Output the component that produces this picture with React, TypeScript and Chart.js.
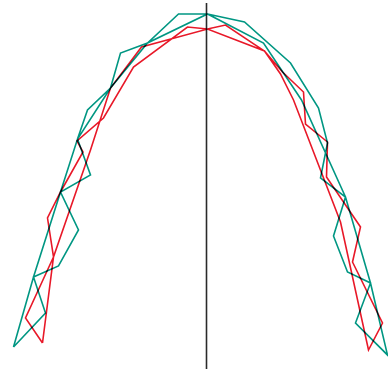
import React, { useEffect, useRef } from "react";
import { Chart, registerables } from "chart.js";

Chart.register(...registerables);

// Teal trace (closed path: noisy strand up-left, over, down-right; then smooth strand back)
const tealX = [
  -1.93, -1.61, -1.73, -1.48, -1.28, -1.46, -1.16, -1.29, -1.19, -0.96, -0.86, -0.59, -0.28, 0.01,
  0.38, 0.84, 1.12, 1.21, 1.14, 1.39, 1.27, 1.41, 1.64, 1.49, 1.81,
  1.64, 1.39, 0.95, 0.57, 0.01,
  -0.59, -0.96, -1.29, -1.46, -1.73, -1.93,
];
const tealY = [
  0.22, 0.56, 0.92, 1.03, 1.39, 1.77, 1.94, 2.3, 2.59, 2.81, 3.16, 3.26, 3.55, 3.55,
  3.47, 3.06, 2.61, 2.26, 1.91, 1.72, 1.33, 0.97, 0.86, 0.46, 0.14,
  0.86, 1.72, 2.69, 3.26, 3.55,
  3.26, 2.81, 2.3, 1.77, 0.92, 0.22,
];

// Red trace
const redX = [
  -1.64, -1.81, -1.53, -1.59, -1.46, -1.235, -1.295, -1.03, -0.73, -0.19, 0.01,
  0.19, 0.58, 0.76, 0.97, 0.99, 1.21, 1.2, 1.54, 1.46, 1.76, 1.62,
  1.34, 0.87, 0.74, 0.58, 0.01,
  -0.65, -0.96, -1.16, -1.53, -1.64,
];
const redY = [
  0.26, 0.51, 1.12, 1.51, 1.77, 2.17, 2.28, 2.51, 3.02, 3.42, 3.4,
  3.44, 3.18, 2.97, 2.77, 2.45, 2.27, 1.92, 1.42, 1.07, 0.46, 0.19,
  1.47, 2.69, 2.95, 3.18, 3.4,
  3.22, 2.81, 2.19, 1.12, 0.26,
];

// Vertical reference line at x = 0
const axisX = [0, 0];
const axisY = [-0.1, 3.66];

const X_MIN = -2.065;
const X_MAX = 1.815;
const Y_MIN = 0;
const Y_MAX = 3.69;

const toPoints = (xs: number[], ys: number[]) => xs.map((x, i) => ({ x, y: ys[i] }));

const multiplyPlugin = {
  id: "multiplyBlend",
  beforeDatasetsDraw(chart: any) {
    chart.ctx.save();
    chart.ctx.globalCompositeOperation = "multiply";
  },
  afterDatasetsDraw(chart: any) {
    chart.ctx.restore();
  },
};

export default function App() {
  const ref = useRef<HTMLCanvasElement | null>(null);
  useEffect(() => {
    if (!ref.current) return;
    const chart = new Chart(ref.current, {
      type: "scatter",
      data: {
        datasets: [
          {
            data: toPoints(axisX, axisY),
            showLine: true,
            borderColor: "#2a2a2a",
            borderWidth: 1.6,
            pointRadius: 0,
            tension: 0,
          },
          {
            data: toPoints(tealX, tealY),
            showLine: true,
            borderColor: "rgb(0,150,130)",
            borderWidth: 1.6,
            pointRadius: 0,
            tension: 0,
          },
          {
            data: toPoints(redX, redY),
            showLine: true,
            borderColor: "rgb(232,24,40)",
            borderWidth: 1.6,
            pointRadius: 0,
            tension: 0,
          },
        ],
      },
      options: {
        animation: false,
        responsive: false,
        maintainAspectRatio: false,
        layout: { padding: 0 },
        plugins: { legend: { display: false }, tooltip: { enabled: false } },
        scales: {
          x: { type: "linear", min: X_MIN, max: X_MAX, display: false },
          y: { type: "linear", min: Y_MIN, max: Y_MAX, display: false },
        },
      },
      plugins: [multiplyPlugin],
    });
    return () => chart.destroy();
  }, []);
  return (
    <div style={{ position: "fixed", left: 0, top: 0, width: 388, height: 369, background: "#fff" }}>
      <canvas ref={ref} width={388} height={369} />
    </div>
  );
}
